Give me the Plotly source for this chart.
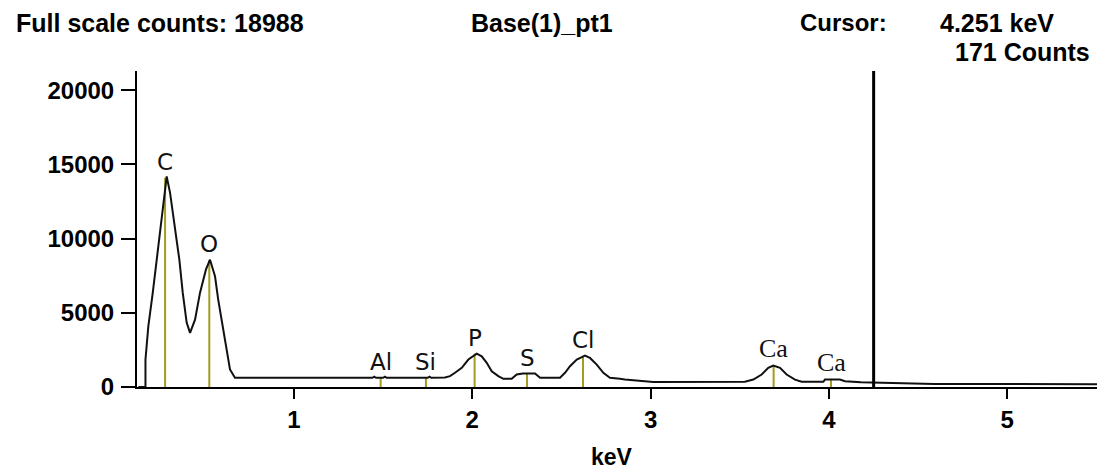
import plotly.graph_objects as go

# ---- data ----
spec_kev = [0.127, 0.167, 0.167, 0.183, 0.208, 0.230, 0.252, 0.273, 0.286, 0.305, 0.333,
            0.357, 0.376, 0.398, 0.417, 0.445, 0.473, 0.506, 0.529, 0.557, 0.575, 0.600,
            0.623, 0.641, 0.669, 1.440, 1.450, 1.460, 1.500, 1.510, 1.520, 1.750, 1.760,
            1.770, 1.847, 1.875, 1.903, 1.941, 1.978, 2.015, 2.025, 2.053, 2.081, 2.109,
            2.146, 2.174, 2.221, 2.249, 2.284, 2.352, 2.380, 2.492, 2.520, 2.548, 2.586,
            2.623, 2.632, 2.660, 2.698, 2.735, 2.772, 2.828, 2.856, 3.015, 3.529, 3.576,
            3.623, 3.660, 3.688, 3.726, 3.763, 3.810, 3.847, 3.969, 3.978, 4.062, 4.090,
            4.180, 4.251, 4.300, 4.578, 4.590, 5.549]
spec_counts = [0, 0, 1850, 4090, 6360, 8580, 10820, 13090, 14190, 13090, 10820,
               8580, 6360, 4340, 3650, 4540, 6360, 7910, 8580, 7460, 5890, 4090,
               2300, 1180, 620, 620, 690, 620, 620, 690, 620, 620, 690,
               620, 640, 730, 960, 1290, 1850, 2190, 2250, 2070, 1630, 1060,
               730, 550, 550, 840, 910, 910, 620, 620, 960, 1400, 1850,
               2070, 2120, 1960, 1510, 960, 620, 550, 500, 340, 350, 500,
               840, 1290, 1450, 1290, 840, 500, 350, 350, 500, 500, 390,
               320, 300, 280, 250, 200, 190]

elements = ["C", "O", "Al", "Si", "P", "S", "Cl", "Ca", "Ca"]
element_kev = [0.277, 0.525, 1.486, 1.740, 2.013, 2.307, 2.621, 3.690, 4.012]
element_height = [14100, 8550, 620, 620, 2250, 900, 2100, 1440, 500]

cursor_kev = 4.251
cursor_counts = 171
full_scale = 18988
spectrum_name = "Base(1)_pt1"

y_ticks = [0, 5000, 10000, 15000, 20000]
x_ticks = [1, 2, 3, 4, 5]

# ---- layout geometry (page offset of 8px compensated) ----
OFF = 8
W, H = 1105 - OFF, 475 - OFF
L, R, T, B = 137 - OFF, 0, 71 - OFF, 87.5
PW, PH = W - L - R, H - T - B


def px(x):
    return (x - OFF - L) / PW


def py(y):
    return (H - B - (y - OFF)) / PH


fig = go.Figure()

# element marker lines
for k, h in zip(element_kev, element_height):
    fig.add_trace(go.Scatter(x=[k, k], y=[0, h], mode="lines",
                             line=dict(color="#a39c1c", width=2),
                             hoverinfo="skip", showlegend=False))

# spectrum
fig.add_trace(go.Scatter(x=spec_kev, y=spec_counts, mode="lines",
                         line=dict(color="#111111", width=2),
                         showlegend=False))

# element labels
for name, k, h in zip(elements, element_kev, element_height):
    serif = name == "Ca"
    fig.add_annotation(x=k, y=h, text=name, showarrow=False,
                       xanchor="center", yanchor="bottom", yshift=1,
                       font=dict(family="Liberation Serif" if serif else "DejaVu Sans",
                                 size=26 if serif else 23, color="#111"))

# cursor
fig.add_shape(type="line", x0=cursor_kev, x1=cursor_kev, y0=0, y1=1,
              xref="x", yref="paper", line=dict(color="black", width=3))

bold = dict(family="Liberation Sans", size=24, color="black")
title_font = dict(family="Liberation Sans", size=25, color="black")
fig.add_annotation(x=px(14), y=py(22.5), xref="paper", yref="paper",
                   text=f"<b>Full scale counts: {full_scale}</b>", showarrow=False,
                   xanchor="left", yanchor="middle", font=title_font)
fig.add_annotation(x=px(542), y=py(22.5), xref="paper", yref="paper",
                   text=f"<b>{spectrum_name}</b>", showarrow=False,
                   xanchor="center", yanchor="middle", font=title_font)
fig.add_annotation(x=px(798), y=py(22.5), xref="paper", yref="paper",
                   text="<b>Cursor:</b>", showarrow=False,
                   xanchor="left", yanchor="middle", font=bold)
fig.add_annotation(x=px(1056), y=py(22.5), xref="paper", yref="paper",
                   text=f"<b>{cursor_kev:.3f} keV</b>", showarrow=False,
                   xanchor="right", yanchor="middle", font=title_font)
fig.add_annotation(x=px(1092), y=py(51.5), xref="paper", yref="paper",
                   text=f"<b>{cursor_counts} Counts</b>", showarrow=False,
                   xanchor="right", yanchor="middle", font=title_font)
fig.add_annotation(x=px(612), y=py(458), xref="paper", yref="paper",
                   text="<b>keV</b>", showarrow=False,
                   xanchor="center", yanchor="middle",
                   font=dict(family="Liberation Sans", size=23, color="black"))

fig.update_layout(
    width=W, height=H,
    margin=dict(l=L, r=R, t=T, b=B, pad=0),
    paper_bgcolor="white", plot_bgcolor="white",
    xaxis=dict(range=[0.1195, 5.5486], tickvals=x_ticks,
               ticktext=[f"<b>{v}</b>" for v in x_ticks],
               showgrid=False, zeroline=False, showline=True,
               linecolor="black", linewidth=2, ticks="outside",
               ticklen=10, tickwidth=2, tickcolor="black",
               tickfont=bold, ticklabelstandoff=0),
    yaxis=dict(range=[0, 21300], tickvals=y_ticks,
               ticktext=[f"<b>{v}</b>" for v in y_ticks],
               showgrid=False, zeroline=False, showline=True,
               linecolor="black", linewidth=2, ticks="outside",
               ticklen=14, tickwidth=2, tickcolor="black",
               tickfont=bold, ticklabelstandoff=2),
)

fig.write_html("out.html")
